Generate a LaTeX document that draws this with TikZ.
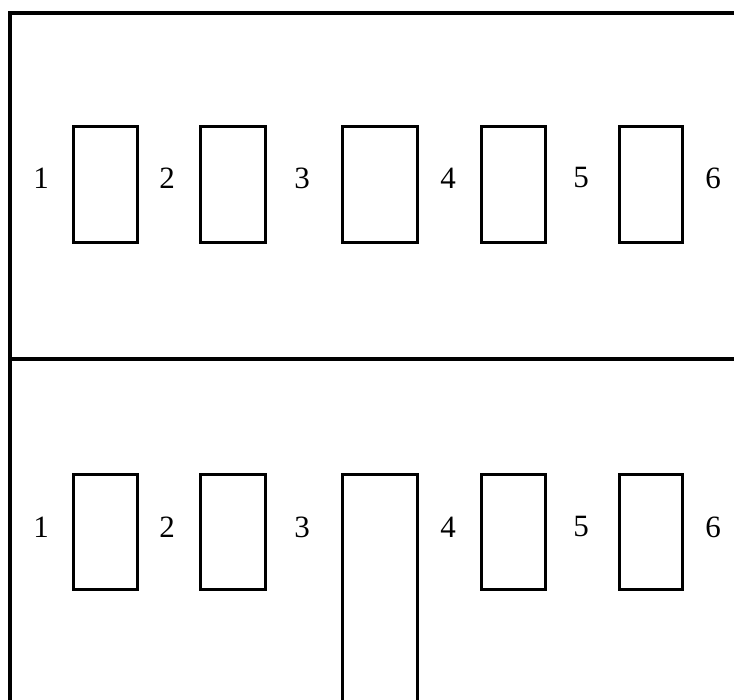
\documentclass[tikz,border=0pt]{standalone}
\usepackage{fontspec}
\setmainfont{Liberation Serif}
\usetikzlibrary{positioning}

\tikzset{
  frame/.style={draw=black, line width=3.4pt},
  slot/.style={draw=black, line width=3pt},
  num/.style={inner sep=0pt, font=\fontsize{31}{31}\selectfont}
}

\begin{document}
\begin{tikzpicture}[x=1pt, y=-1pt]
  \useasboundingbox (0,0) rectangle (734,700);

  % Frame and divider
  \draw[frame] (734,13) -- (10,13) -- (10,700);
  \draw[frame, line width=4pt] (10,359) -- (734,359);

  % Upper row of slots
  \foreach \l/\r in {73/137,200/265,342/417,481/545,619/682}
    \draw[slot] (\l,127) rectangle (\r,243);

  % Lower row of slots - the third one runs off the bottom
  \foreach \l/\r in {73/137,200/265,481/545,619/682}
    \draw[slot] (\l,475) rectangle (\r,589);
  \draw[slot] (342,700) -- (342,475) -- (417,475) -- (417,700);

  % Numbers
  \foreach \x [count=\n] in {41,167,302,448,581,713} {
    \node[num] (top\n) at (\x,178) {\n};
    \node[num] (bot\n) at (\x,527) {\n};
  }
\end{tikzpicture}
\end{document}
